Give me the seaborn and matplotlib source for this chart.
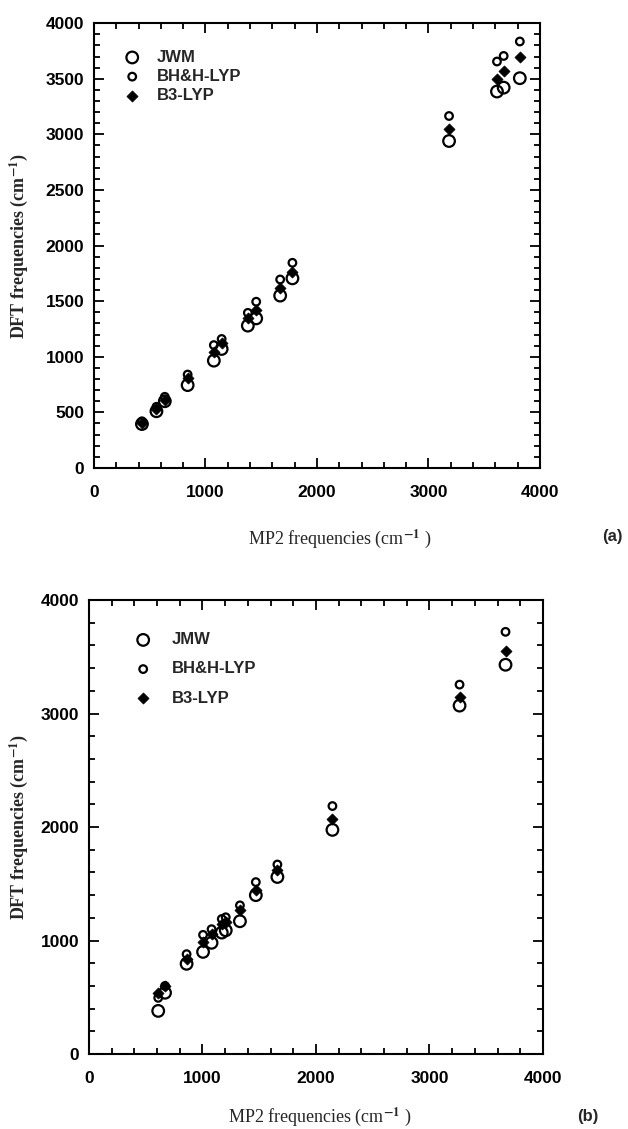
import numpy as np
import pandas as pd
import matplotlib
matplotlib.use("Agg")
import matplotlib.pyplot as plt
from matplotlib.ticker import MultipleLocator
import seaborn as sns

# -------------------------------
# Data (cm-1)
# -------------------------------
# (a)
mp2_a = [430, 560, 635, 840, 1075, 1145, 1380, 1455, 1670, 1780, 3185, 3615, 3675, 3820]
jwm_a = [395, 510, 600, 745, 965, 1070, 1280, 1345, 1550, 1705, 2940, 3385, 3420, 3505]
bhh_a = [420, 550, 640, 840, 1105, 1160, 1395, 1495, 1695, 1845, 3165, 3655, 3705, 3835]
b3_a = [405, 530, 615, 805, 1045, 1120, 1350, 1425, 1620, 1760, 3050, 3500, 3570, 3700]

# (b)
mp2_b = [610, 670, 860, 1005, 1080, 1170, 1205, 1330, 1470, 1660, 2145, 3265, 3670]
jmw_b = [380, 540, 795, 900, 980, 1070, 1090, 1170, 1400, 1560, 1975, 3070, 3430]
bhh_b = [495, 600, 880, 1050, 1100, 1190, 1205, 1310, 1515, 1670, 2185, 3255, 3720]
b3_b = [535, 600, 840, 990, 1055, 1150, 1160, 1270, 1445, 1620, 2070, 3150, 3550]

sns.set_style("ticks")
plt.rcParams["font.family"] = ["Liberation Sans", "DejaVu Sans"]
plt.rcParams["mathtext.fontset"] = "stix"

fig = plt.figure(figsize=(6.28, 11.29), dpi=100)
ax_a = fig.add_axes([0.1497, 0.5855, 0.710, 0.394])
ax_b = fig.add_axes([0.1417, 0.0664, 0.7229, 0.4021])


def draw_panel(ax, x, first, second, third, first_name):
    df = pd.DataFrame({"MP2": x, first_name: first, "BH&H-LYP": second, "B3-LYP": third})
    sns.scatterplot(data=df, x="MP2", y=first_name, ax=ax, marker="o", s=70,
                    facecolor="none", edgecolor="black", linewidth=1.6, label=first_name)
    sns.scatterplot(data=df, x="MP2", y="BH&H-LYP", ax=ax, marker="o", s=30,
                    facecolor="none", edgecolor="black", linewidth=1.6, label="BH&H-LYP")
    sns.scatterplot(data=df, x="MP2", y="B3-LYP", ax=ax, marker="D", s=32,
                    color="black", edgecolor="black", linewidth=0.5, label="B3-LYP")
    ax.set_xlim(0, 4000)
    ax.set_ylim(0, 4000)
    ax.xaxis.set_major_locator(MultipleLocator(1000))
    ax.xaxis.set_minor_locator(MultipleLocator(200))
    for side in ["top", "right", "left", "bottom"]:
        ax.spines[side].set_visible(True)
        ax.spines[side].set_linewidth(1.5)
        ax.spines[side].set_color("black")
    ax.tick_params(which="both", direction="in", top=True, right=True, width=1.3,
                   colors="black")
    ax.tick_params(which="major", length=7, labelsize=12.5)
    ax.tick_params(axis="y", which="major", pad=7)
    ax.tick_params(axis="x", which="major", pad=12)
    ax.tick_params(which="minor", length=4)
    for lab in ax.get_xticklabels() + ax.get_yticklabels():
        lab.set_fontweight("bold")


# panel (a)
draw_panel(ax_a, mp2_a, jwm_a, bhh_a, b3_a, "JWM")
ax_a.yaxis.set_major_locator(MultipleLocator(500))
ax_a.yaxis.set_minor_locator(MultipleLocator(100))
for lab in ax_a.get_yticklabels():
    lab.set_fontweight("bold")
ax_a.legend(loc="upper left", bbox_to_anchor=(0.067, 0.94), frameon=False,
            borderaxespad=0, borderpad=0, handlelength=1, handletextpad=0.95,
            labelspacing=0.25, prop={"size": 12, "weight": "bold"})

# panel (b)
draw_panel(ax_b, mp2_b, jmw_b, bhh_b, b3_b, "JMW")
ax_b.yaxis.set_major_locator(MultipleLocator(1000))
ax_b.yaxis.set_minor_locator(MultipleLocator(200))
for lab in ax_b.get_yticklabels():
    lab.set_fontweight("bold")
ax_b.legend(loc="upper left", bbox_to_anchor=(0.101, 0.929), frameon=False,
            borderaxespad=0, borderpad=0, handlelength=1, handletextpad=1.2,
            labelspacing=0.85, prop={"size": 12, "weight": "bold"})

serif = {"family": ["Liberation Serif", "DejaVu Serif"], "size": 13}
for ax, xl, yl in [(ax_a, (0.552, -0.133), (-0.1435, 0.5)),
                   (ax_b, (0.509, -0.112), (-0.13, 0.5))]:
    ax.set_xlabel(r"MP2 frequencies (cm$^{\mathbf{-1}}$ )", fontdict=serif)
    ax.set_ylabel(r"DFT frequencies (cm$^{\mathbf{-1}}$)", fontdict=dict(serif, weight="bold"))
    ax.xaxis.set_label_coords(*xl)
    ax.yaxis.set_label_coords(*yl)

fig.text(0.975, 0.525, "(a)", ha="center", va="center", fontsize=12, fontweight="bold")
fig.text(0.936, 0.011, "(b)", ha="center", va="center", fontsize=12, fontweight="bold")

fig.savefig("out.png", dpi=100)
